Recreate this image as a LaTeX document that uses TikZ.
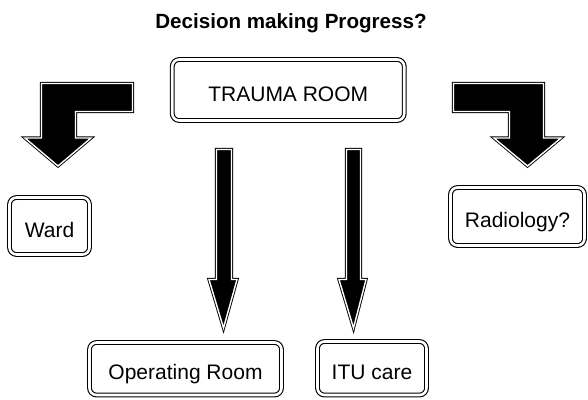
\documentclass[tikz,border=0pt]{standalone}
\usepackage{fontspec}
\setmainfont{Liberation Sans}
\begin{document}
\begin{tikzpicture}[x=1pt,y=-1pt,
  roombox/.style={draw=black, line width=1.1pt, double=white, double distance=2.6pt,
    rounded corners=7pt, inner sep=0pt, text height=22pt, text depth=0pt,
    font=\fontsize{21}{25}\selectfont},
  blockarrow/.style={fill=black, draw=black, line width=0.9pt, double=white,
    double distance=1.4pt, line join=miter}]
\useasboundingbox (0,0) rectangle (588,399);
\node[font=\bfseries\fontsize{20.6}{24}\selectfont] (title) at (291,23) {Decision making Progress?};
\node[roombox, minimum width=232pt, minimum height=61pt] (trauma) at (288.25,90) {TRAUMA ROOM};
\node[roombox, minimum width=80pt, minimum height=57pt] (ward) at (49.5,226) {Ward};
\node[roombox, minimum width=134pt, minimum height=58pt] (radio) at (517.5,216.5) {Radiology?};
\node[roombox, minimum width=192pt, minimum height=52.5pt] (or) at (185.5,368.75) {Operating Room};
\node[roombox, minimum width=109pt, minimum height=53.5pt] (itu) at (372,368.25) {ITU care};
% left L-shaped arrow
\draw[blockarrow] (132.5,83.5) -- (41.5,83.5) -- (41.5,138) -- (25,138) -- (58,166)
  -- (91,138) -- (75.5,138) -- (75.5,111.5) -- (132.5,111.5) -- cycle;
% right L-shaped arrow
\draw[blockarrow] (453.5,83.5) -- (543.5,83.5) -- (543.5,138) -- (561,138) -- (527.5,166)
  -- (494,138) -- (509.5,138) -- (509.5,111.5) -- (453.5,111.5) -- cycle;
% vertical arrows
\draw[blockarrow] (216.5,149.5) -- (231.5,149.5) -- (231.5,279.5) -- (237,279.5)
  -- (223.5,328) -- (209,279.5) -- (216.5,279.5) -- cycle;
\draw[blockarrow] (346.5,149.5) -- (360.5,149.5) -- (360.5,279.5) -- (366,279.5)
  -- (353.5,328) -- (339,279.5) -- (346.5,279.5) -- cycle;
\end{tikzpicture}
\end{document}
